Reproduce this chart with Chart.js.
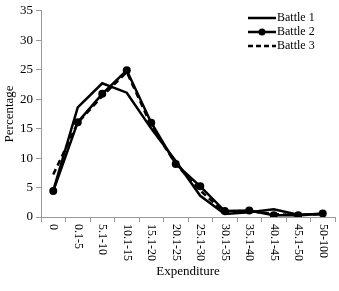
<!DOCTYPE html>
<html>
<head>
<meta charset="utf-8">
<script src="https://cdn.jsdelivr.net/npm/chart.js@4.4.0/dist/chart.umd.min.js"></script>
<style>
  html, body { margin: 0; padding: 0; background: #fff; }
  #wrap { width: 339px; height: 291px; }
</style>
</head>
<body>
<div id="wrap"><canvas id="myChart"></canvas></div>
<script>
var categories = ["0", "0.1-5", "5.1-10", "10.1-15", "15.1-20", "20.1-25", "25.1-30",
  "30.1-35", "35.1-40", "40.1-45", "45.1-50", "50-100"];
var battle1 = [4.5, 18.6, 22.7, 21.1, 15.0, 9.5, 3.6, 0.5, 0.8, 1.3, 0.4, 0.5];
var battle2 = [4.4, 16.1, 20.9, 24.9, 16.0, 9.0, 5.2, 1.0, 1.1, 0.3, 0.3, 0.6];
var battle3 = [7.2, 16.0, 20.5, 24.6, 15.5, 9.0, 4.5, 0.7, 1.0, 0.5, 0.3, 0.5];
var yTicks = [0, 5, 10, 15, 20, 25, 30, 35];

var serif = "'Liberation Serif', 'Times New Roman', serif";
Chart.defaults.font.family = serif;
Chart.defaults.color = "#000";

// x labels read top-to-bottom, chart.js rotates the other way so draw them here
var xLabelPlugin = {
  id: "xLabels",
  afterDraw: function(chart) {
    var ctx = chart.ctx;
    var xs = chart.scales.x;
    ctx.save();
    ctx.font = "12px " + serif;
    ctx.fillStyle = "#000";
    ctx.textAlign = "left";
    ctx.textBaseline = "middle";
    for (var i = 0; i < categories.length; i++) {
      var x = xs.getPixelForTick(i);
      ctx.save();
      ctx.translate(x, xs.top + 7);
      ctx.rotate(Math.PI / 2);
      ctx.fillText(categories[i], 0, 0);
      ctx.restore();
    }
    ctx.restore();
  }
};

var legendPlugin = {
  id: "boxLegend",
  afterDraw: function(chart) {
    var ctx = chart.ctx;
    var names = ["Battle 1", "Battle 2", "Battle 3"];
    var x0 = 248, x1 = 276, y = 18, gap = 14;
    ctx.save();
    ctx.font = "12px " + serif;
    ctx.fillStyle = "#000";
    ctx.strokeStyle = "#000";
    ctx.lineWidth = 2.5;
    ctx.textBaseline = "middle";
    for (var i = 0; i < names.length; i++) {
      var yy = y + i * gap;
      ctx.setLineDash(i == 2 ? [5, 3] : []);
      ctx.beginPath();
      ctx.moveTo(x0, yy);
      ctx.lineTo(x1, yy);
      ctx.stroke();
      if (i == 1) {
        ctx.beginPath();
        ctx.arc((x0 + x1) / 2, yy, 3.5, 0, Math.PI * 2);
        ctx.fill();
      }
      ctx.fillText(names[i], x1 + 1, yy);
    }
    ctx.restore();
  }
};

new Chart("myChart", {
  type: "line",
  data: {
    labels: categories,
    datasets: [{
      label: "Battle 1",
      data: battle1,
      borderColor: "#000",
      borderWidth: 2.5,
      pointRadius: 0,
      tension: 0
    }, {
      label: "Battle 2",
      data: battle2,
      borderColor: "#000",
      backgroundColor: "#000",
      borderWidth: 2.5,
      pointRadius: 4,
      pointBorderWidth: 0,
      tension: 0
    }, {
      label: "Battle 3",
      data: battle3,
      borderColor: "#000",
      borderWidth: 2.5,
      borderDash: [6, 4],
      pointRadius: 0,
      tension: 0
    }]
  },
  options: {
    responsive: true,
    maintainAspectRatio: false,
    animation: false,
    layout: { padding: { top: 4, right: 3, left: 2, bottom: 0 } },
    plugins: {
      legend: { display: false },
      tooltip: { enabled: false }
    },
    scales: {
      x: {
        offset: true,
        grid: { display: true, drawOnChartArea: false, offset: true, tickLength: 5, color: "#999" },
        border: { color: "#999", width: 1 },
        ticks: { display: false },
        title: { display: true, text: "Expenditure", font: { size: 13 }, padding: { top: 0, bottom: 12 } },
        afterFit: function(s) { s.height = 74; }
      },
      y: {
        min: 0,
        max: 35,
        afterBuildTicks: function(s) { s.ticks = yTicks.map(function(v) { return { value: v }; }); },
        grid: { display: true, drawOnChartArea: false, tickLength: 5, color: "#999" },
        border: { color: "#999", width: 1 },
        ticks: { font: { size: 13 }, padding: 3 },
        title: { display: true, text: "Percentage", font: { size: 13 }, padding: { top: 0, bottom: 0 } },
        afterFit: function(s) { s.width = 39; }
      }
    }
  },
  plugins: [xLabelPlugin, legendPlugin]
});
</script>
</body>
</html>
